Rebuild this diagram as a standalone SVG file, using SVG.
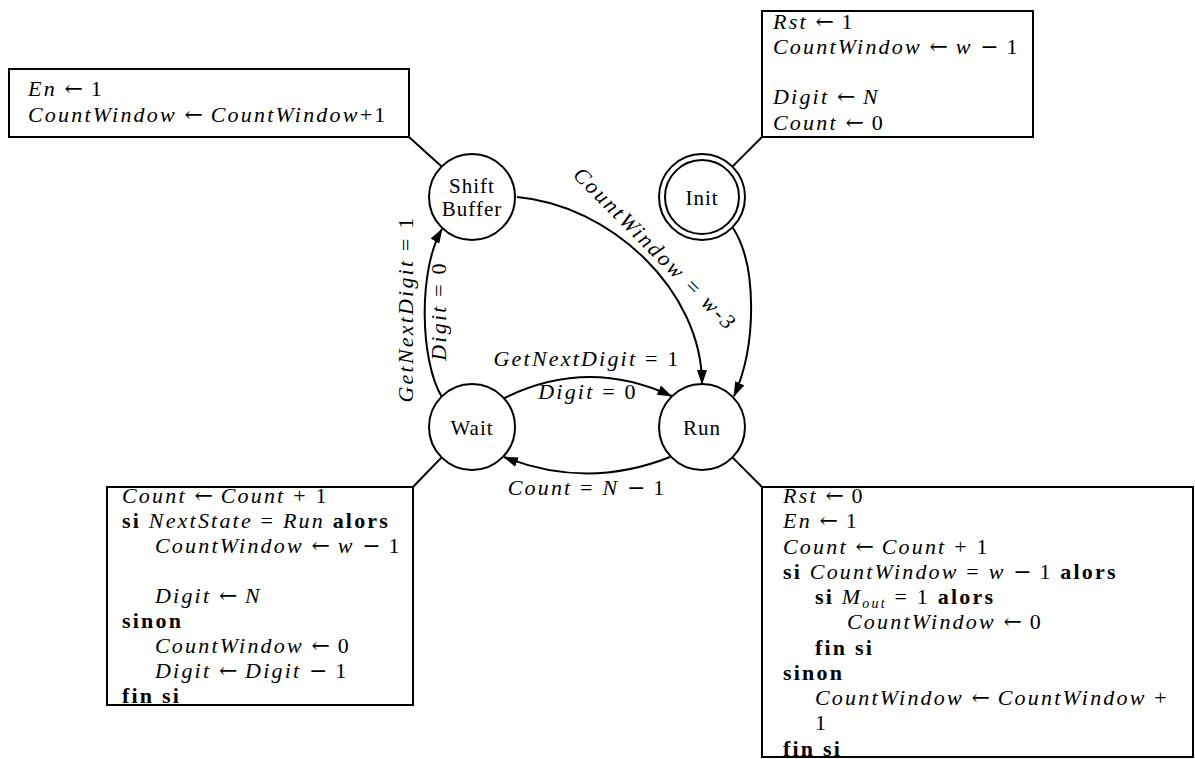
<svg xmlns="http://www.w3.org/2000/svg" width="1195" height="759" viewBox="0 0 1195 759">
<style>
.n{fill:#fff;stroke:#000;stroke-width:2}
.bx{fill:#fff;stroke:#000;stroke-width:2}
.e{fill:none;stroke:#000;stroke-width:2}
.a{marker-end:url(#ah)}
.lbl{font-family:"Liberation Serif",serif;font-size:21px;text-anchor:middle;letter-spacing:1px;fill:#000}
.m{font-family:"Liberation Serif",serif;font-size:22px;letter-spacing:2.2px;fill:#000}
.c{text-anchor:middle}
.i{font-style:italic}
.b{font-weight:bold}
.ar{font-family:"DejaVu Serif","Liberation Serif",serif;font-style:normal;letter-spacing:0}
</style>
<defs>
<marker id="ah" markerWidth="15" markerHeight="10" refX="14" refY="5" orient="auto" markerUnits="userSpaceOnUse">
<path d="M0,0 L15,5 L0,10 z" fill="#000"/>
</marker>
</defs>
<rect width="1195" height="759" fill="#fff"/>

<g id="connectors">
<path class="e" d="M409,137 L441.6,166.6"/>
<path class="e" d="M762,137 L732.4,166.6"/>
<path class="e" d="M413,487 L441.6,457.4"/>
<path class="e" d="M762,487 L732.4,457.4"/>
<path class="e a" d="M517,197 C610,205 702,290 702,384"/>
<path class="e a" d="M733,228 C757,265 757,345 734,396"/>
<path class="e a" d="M441.6,396.6 C420,360 418,270 442,229"/>
<path class="e a" d="M503.5,398.5 Q587,356.8 671.5,396"/>
<path class="e a" d="M670,457 Q587,490 504,457"/>
<text class="m i" transform="translate(650,254) rotate(45)" text-anchor="middle">CountWindow = w-3</text>
<text class="m" transform="translate(413,309) rotate(-90)" text-anchor="middle"><tspan class="i">GetNextDigit</tspan> = 1</text>
<text class="m" transform="translate(446,311) rotate(-90)" text-anchor="middle"><tspan class="i">Digit</tspan> = 0</text>
<text class="m c" x="587" y="366"><tspan class="i">GetNextDigit</tspan> = 1</text>
<text class="m c" x="588" y="399"><tspan class="i">Digit</tspan> = 0</text>
<text class="m c" x="587" y="495"><tspan class="i">Count</tspan> = <tspan class="i">N</tspan> <tspan class="ar">−</tspan> 1</text>
</g>

<g id="shift-buffer">
<circle class="n" cx="472" cy="197" r="43"/>
<text class="lbl" x="472" y="192.5">Shift</text>
<text class="lbl" x="472" y="215.5">Buffer</text>
</g>
<g id="init">
<circle class="n" cx="702" cy="197" r="43"/>
<circle class="n" cx="702" cy="197" r="37"/>
<text class="lbl" x="702" y="205">Init</text>
</g>
<g id="wait">
<circle class="n" cx="472" cy="427" r="43"/>
<text class="lbl" x="472" y="435">Wait</text>
</g>
<g id="run">
<circle class="n" cx="702" cy="427" r="43"/>
<text class="lbl" x="702" y="435">Run</text>
</g>

<g id="box-shift-buffer">
<rect class="bx" x="9" y="69" width="400" height="68"/>
<text class="m" x="28" y="96"><tspan class="i">En</tspan> <tspan class="ar">←</tspan> 1</text>
<text class="m" x="28" y="121.5"><tspan class="i">CountWindow</tspan> <tspan class="ar">←</tspan> <tspan class="i">CountWindow</tspan>+1</text>
</g>

<g id="box-init">
<rect class="bx" x="762" y="11" width="271" height="126"/>
<text class="m" x="773" y="28.5"><tspan class="i">Rst</tspan> <tspan class="ar">←</tspan> 1</text>
<text class="m" x="773" y="53.8"><tspan class="i">CountWindow</tspan> <tspan class="ar">←</tspan> <tspan class="i">w</tspan> <tspan class="ar">−</tspan> 1</text>
<text class="m" x="773" y="104.4"><tspan class="i">Digit</tspan> <tspan class="ar">←</tspan> <tspan class="i">N</tspan></text>
<text class="m" x="773" y="129.7"><tspan class="i">Count</tspan> <tspan class="ar">←</tspan> 0</text>
</g>

<g id="box-wait">
<rect class="bx" x="107" y="487" width="306" height="218"/>
<text class="m" x="122" y="503"><tspan class="i">Count</tspan> <tspan class="ar">←</tspan> <tspan class="i">Count</tspan> + 1</text>
<text class="m" x="122" y="528"><tspan class="b">si</tspan> <tspan class="i">NextState</tspan> = <tspan class="i">Run</tspan> <tspan class="b">alors</tspan></text>
<text class="m" x="155" y="553"><tspan class="i">CountWindow</tspan> <tspan class="ar">←</tspan> <tspan class="i">w</tspan> <tspan class="ar">−</tspan> 1</text>
<text class="m" x="155" y="603"><tspan class="i">Digit</tspan> <tspan class="ar">←</tspan> <tspan class="i">N</tspan></text>
<text class="m b" x="122" y="628">sinon</text>
<text class="m" x="155" y="653"><tspan class="i">CountWindow</tspan> <tspan class="ar">←</tspan> 0</text>
<text class="m" x="155" y="678"><tspan class="i">Digit</tspan> <tspan class="ar">←</tspan> <tspan class="i">Digit</tspan> <tspan class="ar">−</tspan> 1</text>
<text class="m b" x="122" y="703">fin si</text>
</g>

<g id="box-run">
<rect class="bx" x="762" y="487" width="431" height="270"/>
<text class="m" x="783" y="503"><tspan class="i">Rst</tspan> <tspan class="ar">←</tspan> 0</text>
<text class="m" x="783" y="528.3"><tspan class="i">En</tspan> <tspan class="ar">←</tspan> 1</text>
<text class="m" x="783" y="553.5"><tspan class="i">Count</tspan> <tspan class="ar">←</tspan> <tspan class="i">Count</tspan> + 1</text>
<text class="m" x="783" y="578.8"><tspan class="b">si</tspan> <tspan class="i">CountWindow</tspan> = <tspan class="i">w</tspan> <tspan class="ar">−</tspan> 1 <tspan class="b">alors</tspan></text>
<text class="m" x="815" y="604"><tspan class="b">si</tspan> <tspan class="i">M</tspan><tspan class="i" dy="4" font-size="14">out</tspan><tspan dy="-4"> = 1 </tspan><tspan class="b">alors</tspan></text>
<text class="m" x="847" y="629.3"><tspan class="i">CountWindow</tspan> <tspan class="ar">←</tspan> 0</text>
<text class="m b" x="815" y="654.5">fin si</text>
<text class="m b" x="783" y="679.8">sinon</text>
<text class="m" x="815" y="705"><tspan class="i">CountWindow</tspan> <tspan class="ar">←</tspan> <tspan class="i">CountWindow</tspan> +</text>
<text class="m" x="815" y="730.3">1</text>
<text class="m b" x="783" y="755.5">fin si</text>
</g>
</svg>
